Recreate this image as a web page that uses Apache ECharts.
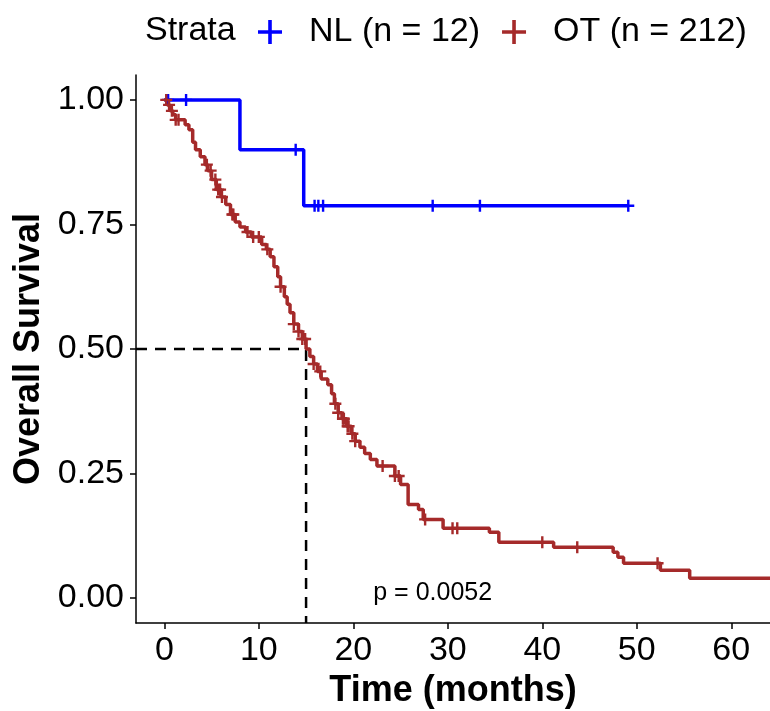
<!DOCTYPE html>
<html>
<head>
<meta charset="utf-8">
<script src="https://cdn.jsdelivr.net/npm/echarts@6/dist/echarts.min.js"></script>
<style>
  html, body { margin: 0; padding: 0; background: #fff; }
  #container { width: 770px; height: 711px; }
</style>
</head>
<body>
<div id="container"></div>
<script>
// survival curves (time in months, survival after the drop)
const nlTimes = [0, 8.0, 14.75, 49.1];
const nlSurv = [1, 0.9, 0.7875, 0.7875];
const nlCensor = [0.4, 2.3, 13.9, 15.9, 16.3, 16.8, 28.4, 33.4, 49.1];

const otTimes = [0, 0.3, 0.6, 0.9, 1.2, 2.2, 2.6, 3.0, 3.3, 3.8, 4.3, 4.6, 5.0, 5.5, 6.0, 6.5, 7.0, 7.5, 8.0, 8.6,
  9.2, 10.3, 10.8, 11.2, 11.6, 12.0, 12.3, 12.7, 13.0, 13.3, 13.7, 14.2, 14.6, 15.0, 15.4, 15.8, 16.2, 16.6, 17.3, 17.7,
  18.0, 18.4, 18.8, 19.3, 19.8, 20.2, 20.7, 21.2, 21.8, 22.5, 24.4, 25.0, 25.8, 26.9, 27.4, 29.5, 34.4, 35.4, 41.2, 47.5,
  48.0, 48.6, 52.5, 55.6, 64.1];
const otSurv = [1, 0.99, 0.978, 0.97, 0.96, 0.95, 0.94, 0.915, 0.9, 0.886, 0.87, 0.858, 0.84, 0.82, 0.805, 0.79, 0.77, 0.755, 0.745, 0.735,
  0.725, 0.71, 0.70, 0.685, 0.665, 0.645, 0.625, 0.605, 0.59, 0.573, 0.55, 0.535, 0.52, 0.50, 0.485, 0.47, 0.455, 0.44, 0.428, 0.41,
  0.39, 0.372, 0.36, 0.345, 0.33, 0.315, 0.303, 0.29, 0.278, 0.265, 0.245, 0.228, 0.188, 0.178, 0.158, 0.14, 0.132, 0.112, 0.102, 0.092,
  0.082, 0.07, 0.056, 0.04, 0.04];
const otCensor = [0.2, 0.5, 0.8, 1.2, 1.5, 4.5, 4.9, 5.4, 5.7, 5.9, 6.1, 7.2, 7.3, 8.8, 9.4, 10.0, 10.9, 12.3,
  13.7, 14.2, 14.6, 14.9, 15.8, 16.5, 18.1, 18.4, 18.9, 19.0, 19.4, 19.5, 19.9, 20.2, 23.1, 24.4, 24.8,
  27.6, 30.5, 31.0, 40.0, 43.7, 52.2];

const seriesNames = ['NL (n = 12)', 'OT (n = 212)'];
const medianTime = 15;
const pValueText = 'p = 0.0052';
const pValuePos = [28.4, 0.011];
const xTicks = [0, 10, 20, 30, 40, 50, 60];
const yTicks = [0, 0.25, 0.5, 0.75, 1];

const plusIcon = 'path://M8,0h4v8h8v4h-8v8h-4v-8h-8v-4h8z';
const legendIcon = 'path://M10.2,0h3.6v10.2h10.2v3.6h-10.2v10.2h-3.6v-10.2h-10.2v-3.6h10.2z';
const FONT = '"Liberation Sans", Arial, sans-serif';

const survAt = (times, surv, t) => {
    let s = surv[0];
    for (let i = 0; i < times.length; i++) {
        if (times[i] <= t) s = surv[i];
    }
    return s;
};
const toPairs = (times, surv) => times.map((t, i) => [t, surv[i]]);
const censorPts = (list, times, surv) => list.map(t => [t, survAt(times, surv, t)]);

var dom = document.getElementById('container');
var myChart = echarts.init(dom, null, { renderer: 'canvas' });

const option = {
    animation: false,
    backgroundColor: '#fff',
    textStyle: { fontFamily: FONT },
    grid: { left: 136, right: 0, top: 75, bottom: 88, outerBoundsMode: 'none' },
    graphic: [{
        type: 'text',
        left: 145,
        top: 14,
        style: { text: 'Strata', fontSize: 34, fontFamily: FONT, fill: '#000' }
    }],
    legend: {
        left: 253,
        top: 10,
        itemWidth: 24,
        itemHeight: 24,
        itemGap: 22,
        icon: legendIcon,
        data: seriesNames,
        textStyle: { fontSize: 34, color: '#000', fontFamily: FONT, padding: [0, 0, 0, 22] }
    },
    xAxis: {
        type: 'value',
        min: -3,
        max: 64.1,
        name: 'Time (months)',
        nameLocation: 'middle',
        nameGap: 46,
        nameTextStyle: { fontSize: 36, fontWeight: 'bold', color: '#000', fontFamily: FONT },
        splitLine: { show: false },
        axisLine: { onZero: false, lineStyle: { color: '#000', width: 1.5 } },
        axisTick: { customValues: xTicks, length: 6, lineStyle: { color: '#000', width: 1.5 } },
        axisLabel: { customValues: xTicks, fontSize: 34, color: '#000', margin: 11, fontFamily: FONT }
    },
    yAxis: {
        type: 'value',
        min: -0.05,
        max: 1.05,
        name: 'Overall Survival',
        nameLocation: 'middle',
        nameGap: 85,
        nameTextStyle: { fontSize: 36, fontWeight: 'bold', color: '#000', fontFamily: FONT },
        splitLine: { show: false },
        axisLine: { show: true, onZero: false, lineStyle: { color: '#000', width: 1.5 } },
        axisTick: { show: true, customValues: yTicks, length: 6, lineStyle: { color: '#000', width: 1.5 } },
        axisLabel: {
            customValues: yTicks, fontSize: 34, color: '#000', margin: 12, fontFamily: FONT,
            formatter: v => v.toFixed(2)
        }
    },
    series: [
        {
            name: seriesNames[0],
            type: 'line',
            step: 'end',
            data: toPairs(nlTimes, nlSurv),
            showSymbol: false,
            color: '#0000FF',
            lineStyle: { color: '#0000FF', width: 3.5 },
            z: 3
        },
        {
            name: seriesNames[1],
            type: 'line',
            step: 'end',
            data: toPairs(otTimes, otSurv),
            showSymbol: false,
            color: '#A52A2A',
            lineStyle: { color: '#A52A2A', width: 3.5 },
            z: 3
        },
        {
            type: 'scatter',
            data: censorPts(nlCensor, nlTimes, nlSurv),
            symbol: plusIcon,
            symbolSize: 12,
            itemStyle: { color: '#0000FF', opacity: 1 },
            z: 4
        },
        {
            type: 'scatter',
            data: censorPts(otCensor, otTimes, otSurv),
            symbol: plusIcon,
            symbolSize: 12,
            itemStyle: { color: '#A52A2A', opacity: 1 },
            z: 4
        },
        {
            // median survival guide
            type: 'line',
            data: [[-3, 0.5], [medianTime, 0.5], [medianTime, -0.05]],
            showSymbol: false,
            lineStyle: { color: '#000', width: 2.5, type: [11, 8] },
            z: 2
        },
        {
            type: 'scatter',
            data: [pValuePos],
            symbolSize: 0,
            itemStyle: { opacity: 1 },
            label: {
                show: true,
                position: 'inside',
                formatter: pValueText,
                fontSize: 25,
                color: '#000',
                opacity: 1,
                fontFamily: FONT
            }
        }
    ]
};

myChart.setOption(option);
</script>
</body>
</html>
